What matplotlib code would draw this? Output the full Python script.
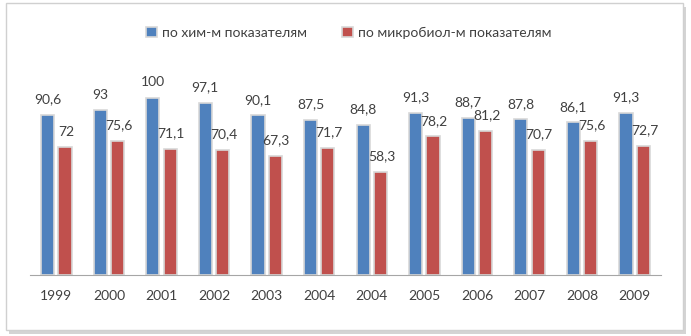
import matplotlib.pyplot as plt
from matplotlib.patches import FancyBboxPatch
import numpy as np

years = ['1999', '2000', '2001', '2002', '2003', '2004', '2004',
         '2005', '2006', '2007', '2008', '2009']
chem = [90.6, 93, 100, 97.1, 90.1, 87.5, 84.8, 91.3, 88.7, 87.8, 86.1, 91.3]
micro = [72, 75.6, 71.1, 70.4, 67.3, 71.7, 58.3, 78.2, 81.2, 70.7, 75.6, 72.7]

blue = '#4F81BD'
red = '#C0504D'

plt.rcParams['font.family'] = ['Lato', 'DejaVu Sans']

W, H = 691, 336
fig = plt.figure(figsize=(W / 100, H / 100), dpi=100)

# outer frame with a soft shadow
shadow = FancyBboxPatch((9 / W, 2 / H), 677 / W, 327 / H, boxstyle='square,pad=0',
                        transform=fig.transFigure, facecolor='#b8b8b8', edgecolor='none',
                        alpha=0.6, zorder=-2)
frame = FancyBboxPatch((6 / W, 6 / H), 677 / W, 327 / H, boxstyle='square,pad=0',
                       transform=fig.transFigure, facecolor='white', edgecolor='#d0d0d0',
                       linewidth=1, zorder=-1)
fig.patches.extend([shadow, frame])

ax = fig.add_axes([30 / W, (H - 275) / H, 631 / W, (275 - 61) / H])
ax.patch.set_alpha(0)

x = np.arange(len(years))
w = 0.25
off = 0.165
b1 = ax.bar(x - off, chem, w, color=blue, edgecolor='#d8d8d8', linewidth=1.2,
            label='по хим-м показателям')
b2 = ax.bar(x + off, micro, w, color=red, edgecolor='#d8d8d8', linewidth=1.2,
            label='по микробиол-м показателям')

for xi, v in zip(x, chem):
    ax.annotate(str(v).replace('.', ','), (xi - off, v), xytext=(0, 7),
                textcoords='offset points', ha='center', va='bottom',
                fontsize=10, color='#404040')
for xi, v in zip(x, micro):
    ax.annotate(str(v).replace('.', ','), (xi + off + 0.02, v), xytext=(0, 7),
                textcoords='offset points', ha='center', va='bottom',
                fontsize=10, color='#404040')

ax.set_xlim(-0.5, len(years) - 0.5)
ax.set_ylim(0, 120.8)
ax.set_xticks(x)
ax.set_xticklabels(years, fontsize=10, color='#404040')
ax.tick_params(axis='x', length=0, pad=11)
ax.set_yticks([])
for s in ['top', 'right', 'left']:
    ax.spines[s].set_visible(False)
ax.spines['bottom'].set_color('#a6a6a6')

fig.legend(handles=[b1, b2], loc='center', bbox_to_anchor=(349 / W, 1 - 33 / H),
           ncol=2, frameon=False, fontsize=10, handlelength=0.75, handleheight=0.75,
           handletextpad=0.4, columnspacing=2.5, labelcolor='#404040')

fig.savefig('out.png', dpi=100)
